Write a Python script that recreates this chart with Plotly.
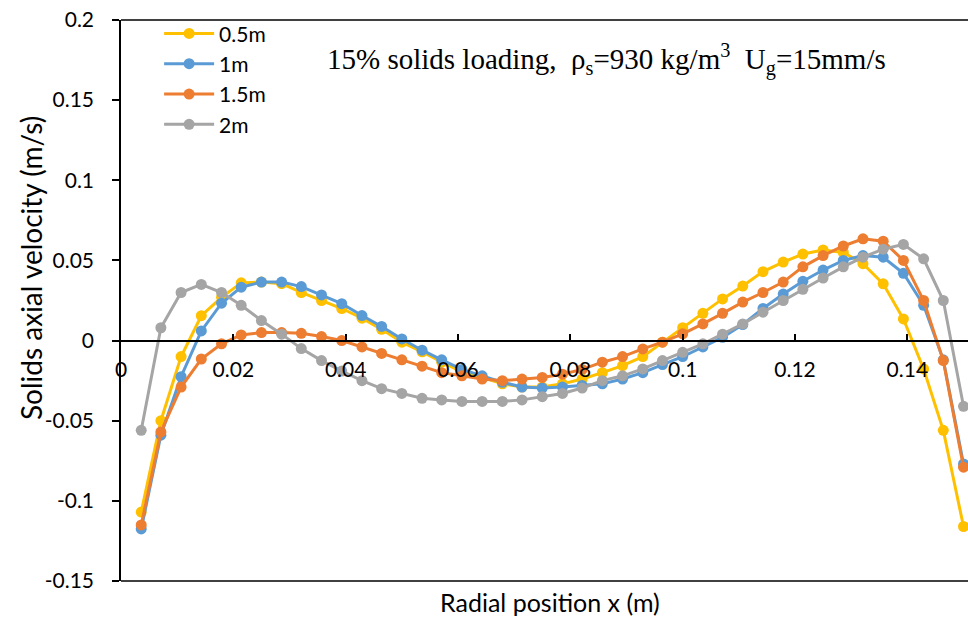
import plotly.graph_objects as go

# Radial positions (m)
x_pos = [0.0036, 0.0071, 0.0107, 0.0143, 0.0179, 0.0214, 0.0250, 0.0286, 0.0321, 0.0357,
         0.0393, 0.0429, 0.0464, 0.0500, 0.0536, 0.0571, 0.0607, 0.0643, 0.0679, 0.0714,
         0.0750, 0.0786, 0.0821, 0.0857, 0.0893, 0.0929, 0.0964, 0.1000, 0.1036, 0.1071,
         0.1107, 0.1143, 0.1179, 0.1214, 0.1250, 0.1286, 0.1321, 0.1357, 0.1393, 0.1429,
         0.1464, 0.1500]

v_05m = [-0.107, -0.050, -0.010, 0.0155, 0.027, 0.036, 0.0365, 0.0355, 0.030, 0.025,
         0.020, 0.014, 0.007, -0.001, -0.007, -0.0135, -0.0195, -0.023, -0.027, -0.029,
         -0.029, -0.027, -0.024, -0.020, -0.0156, -0.010, -0.001, 0.008, 0.017, 0.026,
         0.034, 0.043, 0.049, 0.054, 0.0565, 0.055, 0.048, 0.0354, 0.0135, -0.0177,
         -0.056, -0.116]

v_1m = [-0.1175, -0.059, -0.0225, 0.006, 0.0233, 0.0333, 0.0365, 0.0365, 0.0337, 0.0285,
        0.023, 0.0156, 0.0088, 0.001, -0.006, -0.012, -0.018, -0.022, -0.026, -0.029,
        -0.0296, -0.029, -0.028, -0.027, -0.024, -0.020, -0.015, -0.010, -0.004, 0.002,
        0.010, 0.020, 0.029, 0.037, 0.044, 0.050, 0.053, 0.052, 0.042, 0.022,
        -0.012, -0.077]

v_15m = [-0.115, -0.057, -0.029, -0.0115, -0.002, 0.0035, 0.005, 0.005, 0.0045, 0.0025,
         0.000, -0.004, -0.008, -0.012, -0.016, -0.020, -0.022, -0.024, -0.025, -0.024,
         -0.023, -0.021, -0.018, -0.0135, -0.010, -0.0052, -0.001, 0.0042, 0.0104, 0.017,
         0.024, 0.030, 0.0365, 0.046, 0.053, 0.059, 0.0635, 0.062, 0.050, 0.025,
         -0.0125, -0.079]

v_2m = [-0.056, 0.008, 0.030, 0.035, 0.030, 0.022, 0.0125, 0.004, -0.005, -0.0125,
        -0.019, -0.025, -0.030, -0.033, -0.036, -0.037, -0.038, -0.038, -0.038, -0.037,
        -0.035, -0.033, -0.0296, -0.025, -0.022, -0.0177, -0.0125, -0.0073, -0.002, 0.004,
        0.0104, 0.0177, 0.025, 0.032, 0.039, 0.046, 0.052, 0.057, 0.060, 0.051,
        0.025, -0.041]

series_names = ["0.5m", "1m", "1.5m", "2m"]
series_values = [v_05m, v_1m, v_15m, v_2m]
series_colors = ["#FFC000", "#5B9BD5", "#ED7D31", "#A5A5A5"]

x_tickvals = [0, 0.02, 0.04, 0.06, 0.08, 0.1, 0.12, 0.14]
x_ticktext = ["0", "0.02", "0.04", "0.06", "0.08", "0.1", "0.12", "0.14"]
y_tickvals = [0.2, 0.15, 0.1, 0.05, 0, -0.05, -0.1, -0.15]
y_ticktext = ["0.2", "0.15", "0.1", "0.05", "0", "-0.05", "-0.1", "-0.15"]

fig = go.Figure()
for name, vals, col in zip(series_names, series_values, series_colors):
    fig.add_trace(go.Scatter(
        x=x_pos, y=vals, name=name, mode="lines+markers",
        line=dict(color=col, width=3),
        marker=dict(color=col, size=11, symbol="circle"),
    ))

font_main = "Lato, Carlito, Calibri, sans-serif"
tick_font = dict(family=font_main, size=21, color="black")

fig.update_layout(
    width=968, height=617,
    margin=dict(l=121, r=0, t=20, b=36, pad=0),
    paper_bgcolor="white", plot_bgcolor="white",
    font=dict(family=font_main, size=21, color="black"),
    showlegend=True,
    legend=dict(x=0.045, y=1.012, xanchor="left", yanchor="top",
                bgcolor="rgba(0,0,0,0)",
                font=dict(family=font_main, size=21, color="black"),
                tracegroupgap=0, itemwidth=50),
    xaxis=dict(range=[0, 0.1508], anchor="free", position=0.15 / 0.35,
               showline=True, linecolor="black", linewidth=1.5,
               ticks="inside", ticklen=6, tickwidth=1.5, tickcolor="black",
               tickvals=x_tickvals, ticktext=x_ticktext, tickfont=tick_font,
               showgrid=False, zeroline=False, ticklabelstandoff=10),
    yaxis=dict(range=[-0.15, 0.2], showline=True, linecolor="black", linewidth=1.5,
               ticks="outside", ticklen=7, tickwidth=1.5, tickcolor="black",
               tickvals=y_tickvals, ticktext=y_ticktext, tickfont=tick_font,
               showgrid=False, zeroline=False, ticklabelstandoff=14),
    shapes=[
        dict(type="line", xref="paper", yref="paper", x0=0, x1=1, y0=1, y1=1,
             line=dict(color="black", width=1.5)),
        dict(type="line", xref="paper", yref="paper", x0=0, x1=1, y0=0, y1=0,
             line=dict(color="black", width=1.5)),
    ],
    annotations=[
        dict(text="Solids axial velocity (m/s)", xref="paper", yref="paper",
             x=(31 - 121) / 847, y=(581 - 268) / 561, textangle=-90,
             showarrow=False, xanchor="center", yanchor="middle",
             font=dict(family=font_main, size=28, color="black")),
        dict(text="Radial position x (m)", xref="paper", yref="paper",
             x=(550 - 121) / 847, y=(581 - 602) / 561,
             showarrow=False, xanchor="center", yanchor="middle",
             font=dict(family=font_main, size=25, color="black")),
        dict(text="15% solids loading,  ρ<sub>s</sub>=930 kg/m<sup>3</sup>  U<sub>g</sub>=15mm/s",
             xref="paper", yref="paper",
             x=(606 - 121) / 847, y=(581 - 60) / 561,
             showarrow=False, xanchor="center", yanchor="middle",
             font=dict(family="Liberation Serif, Times New Roman, serif", size=29, color="black")),
    ],
)

fig.write_html("out.html")
